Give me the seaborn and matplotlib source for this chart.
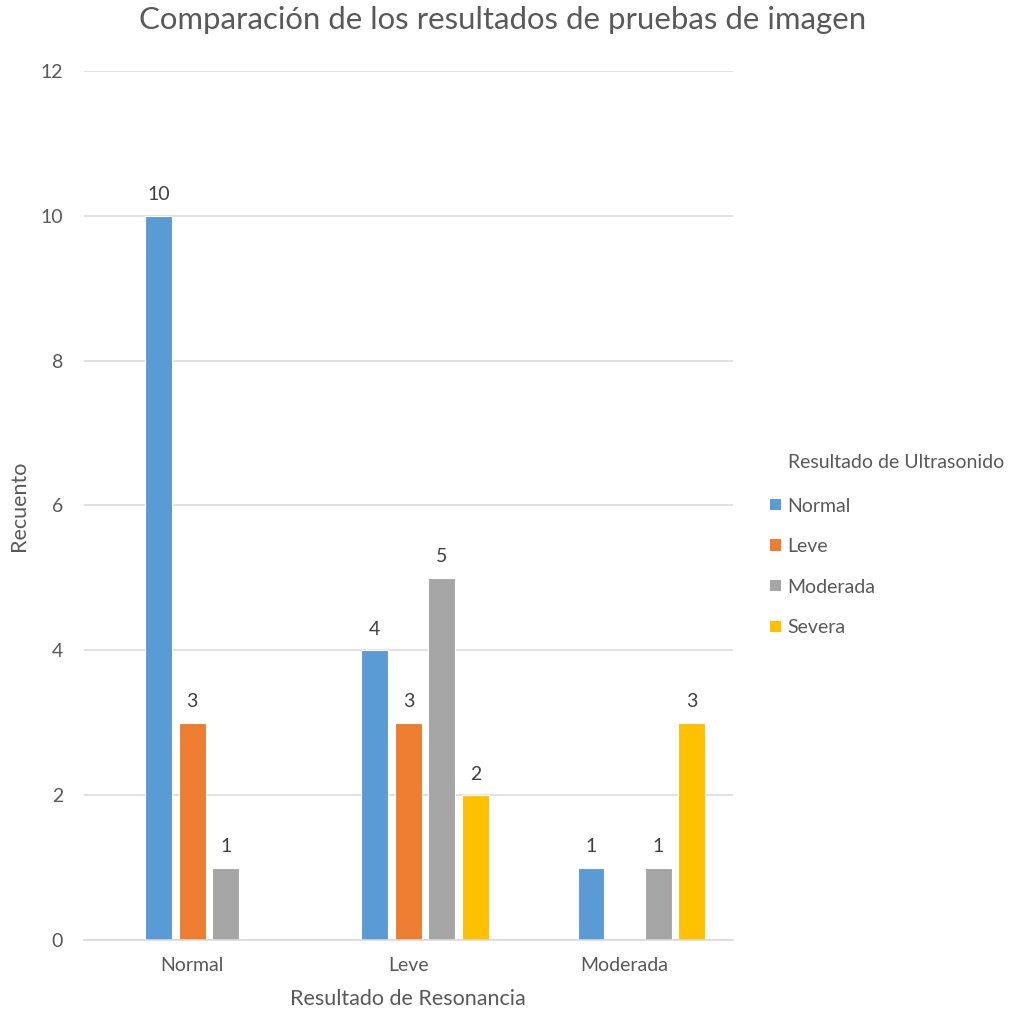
import numpy as np
import pandas as pd
import matplotlib
matplotlib.use("Agg")
import matplotlib.pyplot as plt
from matplotlib.patches import Patch
import seaborn as sns

# --- data -------------------------------------------------------------
resonancia = ["Normal", "Leve", "Moderada"]
ultrasonido = ["Normal", "Leve", "Moderada", "Severa"]
blank_level = "(en blanco)"

recuento_normal = [10, 4, 1]
recuento_leve = [3, 3, np.nan]
recuento_moderada = [1, 5, 1]
recuento_severa = [np.nan, 2, 3]

colores = ["#5B9BD5", "#ED7D31", "#A5A5A5", "#FFC000"]

titulo = "Comparación de los resultados de pruebas de imagen"
x_label = "Resultado de Resonancia"
y_label = "Recuento"
legend_title = "Resultado de Ultrasonido"

# --- long table for seaborn --------------------------------------------
series = [recuento_normal, recuento_leve, recuento_moderada, recuento_severa]
rows = []
for nivel, valores in zip(ultrasonido, series):
    for cat, v in zip(resonancia, valores):
        if not np.isnan(v):
            rows.append({"Resonancia": cat, "Ultrasonido": nivel, "Recuento": v})
df = pd.DataFrame(rows)

hue_order = [blank_level] + ultrasonido
palette = dict(zip(hue_order, ["#FFFFFF"] + colores))

# --- style --------------------------------------------------------------
sns.set_theme(style="white")
plt.rcParams["font.family"] = ["Lato", "DejaVu Sans"]
text_color = "#595959"
grid_color = "#D9D9D9"
fs = 14

fig = plt.figure(figsize=(10.12, 10.14), dpi=100)
ax = fig.add_axes([0.083, 0.073, 0.641, 0.857])

sns.barplot(
    data=df, x="Resonancia", y="Recuento", hue="Ultrasonido",
    order=resonancia, hue_order=hue_order, palette=palette,
    width=0.776, gap=0.2, dodge=True, legend=False,
    edgecolor="white", linewidth=0.8, saturation=1, ax=ax,
)

ax.set_ylim(0, 12)
ax.set_xlim(-0.5, 2.5)
ax.set_yticks(range(0, 13, 2))
ax.yaxis.grid(True, color=grid_color, linewidth=1.1)
ax.set_axisbelow(True)
for side in ["left", "right", "top"]:
    ax.spines[side].set_visible(False)
ax.spines["bottom"].set_color(grid_color)
ax.spines["bottom"].set_linewidth(1.1)
ax.tick_params(axis="both", length=0, colors=text_color, labelsize=fs)
ax.tick_params(axis="y", pad=15)
ax.tick_params(axis="x", pad=12)

ax.set_xlabel(x_label, fontsize=15.5, color=text_color, labelpad=11)
ax.set_ylabel(y_label, fontsize=15.5, color=text_color)
ax.yaxis.set_label_coords(-0.085, 0.5)
fig.suptitle(titulo, x=0.497, y=0.994, va="top", fontsize=22.4, color=text_color)

# value labels above each bar that has data
for cont in ax.containers:
    labels = []
    for bar in cont:
        h = bar.get_height()
        labels.append("" if (np.isnan(h) or h == 0) else f"{h:.0f}")
    ax.bar_label(cont, labels=labels, padding=9, fontsize=fs, color="#404040")

fig.text(788 / 1012, 1 - 463 / 1014, legend_title, fontsize=fs,
         color=text_color, ha="left", va="center")
handles = [Patch(facecolor=c, edgecolor="none") for c in colores]
leg = fig.legend(
    handles, ultrasonido, loc="upper left",
    bbox_to_anchor=(0.744, 0.5266), frameon=False, fontsize=fs,
    handlelength=0.52, handleheight=0.52, handletextpad=0.36,
    labelspacing=1.21, labelcolor=text_color,
)

fig.savefig("out.png", dpi=100, facecolor="white")
